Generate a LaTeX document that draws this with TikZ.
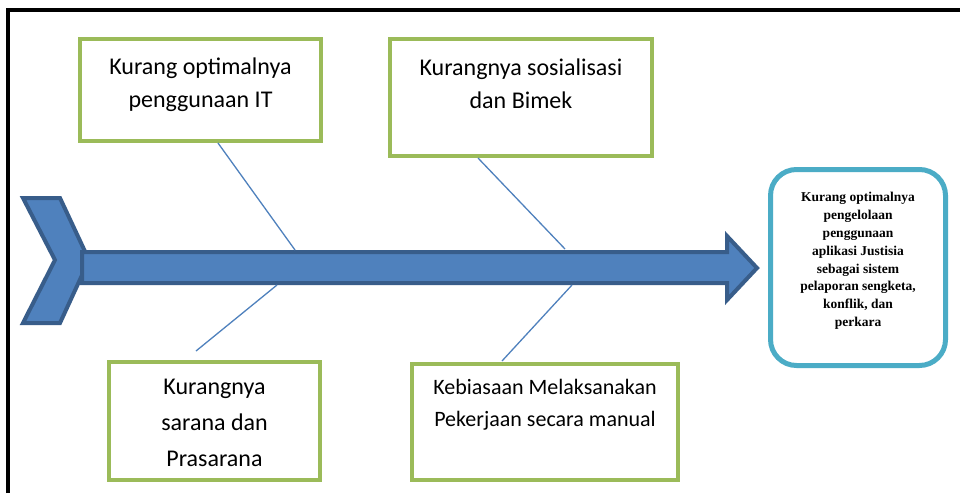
\documentclass[tikz,border=0pt]{standalone}
\usepackage{fontspec}
\setmainfont{Carlito}
\newfontfamily\serifb{Liberation Serif}
\definecolor{arrfill}{HTML}{4F81BD}
\definecolor{arrline}{HTML}{385D8A}
\definecolor{boxgreen}{HTML}{9BBB59}
\definecolor{boxcyan}{HTML}{4BACC6}
\begin{document}
\begin{tikzpicture}[x=1pt,y=-1pt,
  causebox/.style={draw=boxgreen, line width=4pt, rectangle, fill=white, inner sep=0pt},
  causetext/.style={align=center, inner sep=0pt, text=black},
  bone/.style={draw=arrfill, line width=1.3pt},
  spine/.style={fill=arrfill, draw=arrline, line width=4pt, line join=miter}]
\useasboundingbox (0,0) rectangle (960,493);
\fill[white] (0,0) rectangle (960,493);
% frame
\draw[line width=4.5pt, line join=miter] (8,493) -- (8,10) -- (960,10);
% tail chevron
\draw[spine] (23,198) -- (60,198) -- (89,260) -- (60,323) -- (23,323) -- (55,260) -- cycle;
% spine with head
\draw[spine] (82,252) -- (727,252) -- (727,236) -- (757,268) -- (727,300) -- (727,283) -- (82,283) -- cycle;
% boxes
\node[causebox, minimum width=241pt, minimum height=102pt] (b1) at (200.5,90) {};
\node[causebox, minimum width=262pt, minimum height=117pt] (b2) at (521,97.5) {};
\node[causebox, minimum width=211pt, minimum height=118pt] (b3) at (214.5,421) {};
\node[causebox, minimum width=266pt, minimum height=116pt] (b4) at (545,422) {};
\node[draw=boxcyan, line width=5pt, rounded corners=26pt, fill=white, minimum width=175pt, minimum height=196pt] (eff) at (858,267.5) {};
% texts
\node[causetext, font=\fontsize{24}{33}\selectfont] (t1) at (200.5,85) {Kurang optimalnya\\penggunaan IT};
\node[causetext, font=\fontsize{24}{33}\selectfont] (t2) at (521,84) {Kurangnya sosialisasi\\dan Bimek};
\node[causetext, font=\fontsize{24}{36}\selectfont] (t3) at (214.5,422.5) {Kurangnya\\sarana dan\\Prasarana};
\node[causetext, font=\fontsize{22}{32}\selectfont] (t4) at (545,405) {Kebiasaan Melaksanakan\\Pekerjaan secara manual};
\node[causetext, font=\serifb\bfseries\fontsize{13.5}{17.8}\selectfont] (te) at (858,261) {Kurang optimalnya\\pengelolaan\\penggunaan\\aplikasi Justisia\\sebagai sistem\\pelaporan sengketa,\\konflik, dan\\perkara};
% bone end points
\coordinate (c1a) at (218,143);
\coordinate (c1b) at (295,250);
\coordinate (c2a) at (478,158);
\coordinate (c2b) at (565,249);
\coordinate (c3a) at (277,285);
\coordinate (c3b) at (196,351);
\coordinate (c4a) at (572,285);
\coordinate (c4b) at (502,361);
\draw[bone] (c1a) -- (c1b);
\draw[bone] (c2a) -- (c2b);
\draw[bone] (c3a) -- (c3b);
\draw[bone] (c4a) -- (c4b);
\end{tikzpicture}
\end{document}
